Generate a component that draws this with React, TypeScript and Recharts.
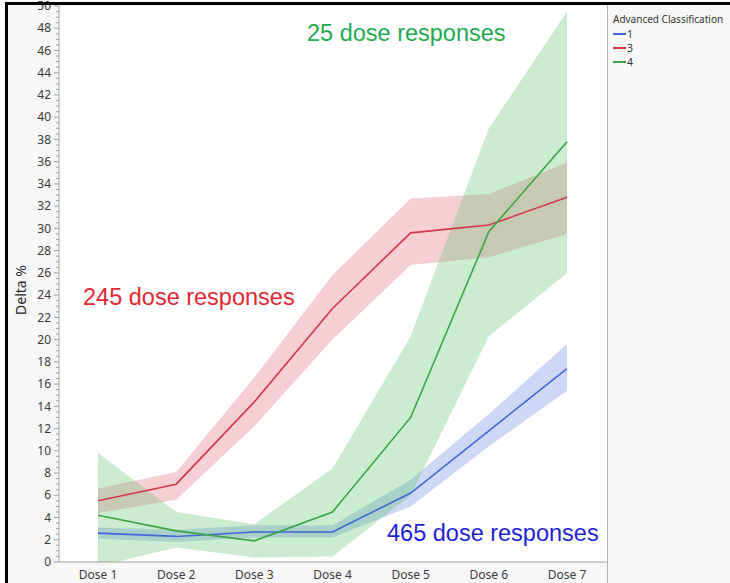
import React from "react";
import {
  ComposedChart,
  Area,
  Line,
  XAxis,
  YAxis,
  CartesianGrid,
} from "recharts";

const doses = ["Dose 1", "Dose 2", "Dose 3", "Dose 4", "Dose 5", "Dose 6", "Dose 7"];

// class 1 (465 dose responses)
const c1Mean = [2.6, 2.3, 2.7, 2.7, 6.2, 11.8, 17.4];
const c1Low = [2.1, 1.8, 2.2, 2.2, 5.0, 10.4, 15.4];
const c1High = [3.1, 2.9, 3.3, 3.3, 7.4, 13.3, 19.6];

// class 3 (245 dose responses)
const c3Mean = [5.5, 7.0, 14.4, 22.8, 29.6, 30.3, 32.8];
const c3Low = [4.4, 5.6, 12.2, 20.0, 26.7, 27.4, 29.5];
const c3High = [6.6, 8.1, 16.6, 25.8, 32.7, 33.1, 35.9];

// class 4 (25 dose responses)
const c4Mean = [4.2, 2.8, 1.9, 4.5, 13.0, 29.7, 37.8];
const c4Low = [-0.4, 1.3, 0.4, 0.5, 6.0, 20.3, 26.0];
const c4High = [9.8, 4.5, 3.4, 8.4, 20.3, 39.0, 49.5];

const yTicks = [0, 2, 4, 6, 8, 10, 12, 14, 16, 18, 20, 22, 24, 26, 28, 30, 32, 34, 36, 38, 40, 42, 44, 46, 48, 50];

const legendItems = [
  { name: "1", color: "#4068d8" },
  { name: "3", color: "#d4364a" },
  { name: "4", color: "#3aa345" },
];

const data = doses.map((dose, i) => ({
  dose,
  m1: c1Mean[i],
  b1: [c1Low[i], c1High[i]],
  m3: c3Mean[i],
  b3: [c3Low[i], c3High[i]],
  m4: c4Mean[i],
  b4: [c4Low[i], c4High[i]],
}));

// major + minor tick positions (minor ones get no label)
const allTicks: number[] = [];
for (let v = 0; v <= 50; v += 0.5) allTicks.push(v);

const font = "'Noto Sans', sans-serif";

const YTick = (props: any) => {
  const { x, y, payload } = props;
  const major = yTicks.includes(payload.value);
  return (
    <g>
      <line x1={x - (major ? 5 : 3)} x2={x} y1={y} y2={y} stroke="#a0a0a0" />
      {major && (
        <text
          x={x - 8}
          y={y}
          dy="0.35em"
          textAnchor="end"
          fontSize={12}
          fontFamily={font}
          fill="#3a3a3a"
        >
          {payload.value}
        </text>
      )}
    </g>
  );
};

const note = (text: string, left: number, top: number, color: string) => (
  <div
    style={{
      position: "absolute",
      left,
      top,
      fontFamily: "'Liberation Sans', Arial, sans-serif",
      fontSize: 23.5,
      lineHeight: 1,
      color,
      whiteSpace: "nowrap",
    }}
  >
    {text}
  </div>
);

export default function App() {
  return (
    <div
      style={{
        position: "absolute",
        left: 0,
        top: 0,
        width: 730,
        height: 583,
        background: "#ffffff",
        overflow: "hidden",
      }}
    >
      <div
        style={{
          position: "absolute",
          left: 5,
          top: 2,
          width: 725,
          height: 581,
          background: "#f7f7f7",
        }}
      />
      <div style={{ position: "absolute", left: 0, top: 0 }}>
        <ComposedChart
          width={607}
          height={583}
          data={data}
          margin={{ top: 6, right: 0, bottom: 0, left: 0 }}
        >
          <CartesianGrid fill="#ffffff" horizontal={false} vertical={false} />
          <XAxis
            dataKey="dose"
            height={21}
            padding={{ left: 39, right: 40 }}
            tickLine={false}
            tickSize={6}
            tickMargin={2}
            axisLine={{ stroke: "#a0a0a0" }}
            tick={{ fontSize: 12, fontFamily: font, fill: "#3a3a3a" }}
          />
          <YAxis
            type="number"
            width={59}
            domain={[0, 50]}
            ticks={allTicks}
            interval={0}
            allowDataOverflow
            tickLine={false}
            tickSize={0}
            tickMargin={0}
            axisLine={{ stroke: "#a0a0a0" }}
            tick={<YTick />}
          />
          <Area dataKey="b1" type="linear" stroke="none" fill="#4a72e0" fillOpacity={0.28} isAnimationActive={false} />
          <Area dataKey="b3" type="linear" stroke="none" fill="#e06070" fillOpacity={0.3} isAnimationActive={false} />
          <Area dataKey="b4" type="linear" stroke="none" fill="#55c065" fillOpacity={0.3} isAnimationActive={false} />
          <Line dataKey="m1" type="linear" stroke="#4068d8" strokeWidth={1.6} dot={false} isAnimationActive={false} />
          <Line dataKey="m3" type="linear" stroke="#d4364a" strokeWidth={1.6} dot={false} isAnimationActive={false} />
          <Line dataKey="m4" type="linear" stroke="#3aa345" strokeWidth={1.6} dot={false} isAnimationActive={false} />
        </ComposedChart>
      </div>

      {note("25 dose responses", 307, 22, "#22aa50")}
      {note("245 dose responses", 83, 286, "#e3262f")}
      {note("465 dose responses", 387, 522, "#1e1ed8")}

      <div
        style={{
          position: "absolute",
          left: 20,
          top: 290,
          transform: "translate(-50%, -50%) rotate(-90deg)",
          fontFamily: font,
          fontSize: 14,
          color: "#222",
          whiteSpace: "nowrap",
        }}
      >
        Delta %
      </div>

      {/* legend panel */}
      <div
        style={{
          position: "absolute",
          left: 607,
          top: 5,
          width: 123,
          height: 578,
          background: "#f7f7f7",
          borderLeft: "1px solid #b4b4b4",
          fontFamily: font,
          color: "#333",
        }}
      >
        <div style={{ position: "absolute", left: 5, top: 7, fontSize: 10, whiteSpace: "nowrap" }}>
          Advanced Classification
        </div>
        {legendItems.map((it, i) => (
          <div
            key={it.name}
            style={{ position: "absolute", left: 5, top: 23 + i * 14, height: 12, display: "flex", alignItems: "center", fontSize: 10.5 }}
          >
            <span style={{ display: "inline-block", width: 13, height: 2, background: it.color, marginRight: 1 }} />
            {it.name}
          </div>
        ))}
      </div>

      {/* black frame */}
      <div style={{ position: "absolute", left: 5, top: 2, width: 725, height: 3, background: "#000" }} />
      <div style={{ position: "absolute", left: 5, top: 2, width: 3, height: 581, background: "#000" }} />
    </div>
  );
}
